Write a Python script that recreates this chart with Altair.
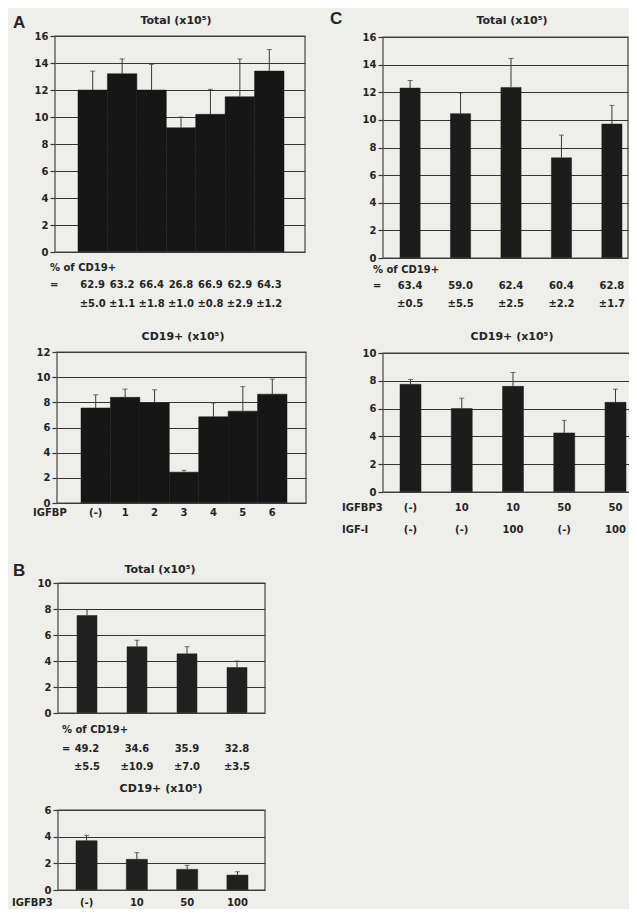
import altair as alt
import pandas as pd

# ---------------- data ----------------
# Panel A : IGFBP 1-6
a_groups = ["(-)", "1", "2", "3", "4", "5", "6"]
a_total = [12.0, 13.2, 12.0, 9.2, 10.2, 11.5, 13.4]
a_total_err = [1.4, 1.1, 1.9, 0.8, 1.85, 2.8, 1.6]
a_pct = ["62.9", "63.2", "66.4", "26.8", "66.9", "62.9", "64.3"]
a_pct_sd = ["±5.0", "±1.1", "±1.8", "±1.0", "±0.8", "±2.9", "±1.2"]
a_cd19 = [7.55, 8.4, 7.95, 2.45, 6.85, 7.3, 8.65]
a_cd19_err = [1.05, 0.65, 1.05, 0.15, 1.1, 1.95, 1.2]

# Panel B : IGFBP3 dose
b_groups = ["(-)", "10", "50", "100"]
b_total = [7.5, 5.1, 4.55, 3.5]
b_total_err = [0.45, 0.5, 0.55, 0.5]
b_pct = ["49.2", "34.6", "35.9", "32.8"]
b_pct_sd = ["±5.5", "±10.9", "±7.0", "±3.5"]
b_cd19 = [3.7, 2.3, 1.55, 1.12]
b_cd19_err = [0.4, 0.5, 0.3, 0.25]

# Panel C : IGFBP3 +/- IGF-I
c_igfbp3 = ["(-)", "10", "10", "50", "50"]
c_igf1 = ["(-)", "(-)", "100", "(-)", "100"]
c_total = [12.3, 10.45, 12.35, 7.25, 9.7]
c_total_err = [0.55, 1.5, 2.1, 1.65, 1.35]
c_pct = ["63.4", "59.0", "62.4", "60.4", "62.8"]
c_pct_sd = ["±0.5", "±5.5", "±2.5", "±2.2", "±1.7"]
c_cd19 = [7.75, 6.0, 7.6, 4.25, 6.45]
c_cd19_err = [0.35, 0.75, 1.0, 0.9, 0.95]
c_groups = [f"{p}|{q}" for p, q in zip(c_igfbp3, c_igf1)]

# ---------------- style ----------------
M = 8
FONT = "DejaVu Sans"
INK = "#242424"
GRID = "#353535"
FRAME = "#454545"
ERR = "#3a3a3a"
BG = "#eeeeeb"
one = pd.DataFrame({"k": [0]})


def px(v):
    return v - M


def band_scale(groups, f0, f1, b0, b1, pi):
    n = len(groups)
    step = (b1 - b0) / (n - pi)
    po = ((f1 - f0) / step - n + pi) / 2
    align = (b0 - f0) / ((f1 - f0) - (b1 - b0))
    return alt.Scale(type="band", domain=groups, range=[px(f0), px(f1)], paddingInner=pi,
                     paddingOuter=po, align=align, round=False)


def y_scale(ymax, yb, yt):
    return alt.Scale(domain=[0, ymax], range=[px(yb), px(yt)], nice=False, zero=False)


def panel(groups, vals, errs, xs, ys, f0, f1, yt, yb, ymax, ystep, color):
    df = pd.DataFrame({"g": groups, "v": vals, "e": errs})
    base = alt.Chart(df).transform_calculate(top="datum.v + datum.e")
    X = alt.X("g:N", scale=xs, axis=None, sort=groups)
    yaxis = alt.Axis(orient="left", offset=-px(f0), values=list(range(0, ymax + 1, ystep)),
                     grid=True, gridColor=GRID, gridWidth=1.2, gridOpacity=1, domain=False,
                     ticks=True, tickSize=5, tickColor=GRID, tickWidth=1.2,
                     labelFont=FONT, labelFontSize=10, labelFontWeight="bold",
                     labelColor=INK, labelPadding=2, title=None)
    bars = base.mark_bar(color=color, stroke=color, strokeWidth=0.5).encode(
        x=X, y=alt.Y("v:Q", scale=ys, axis=yaxis))
    err = base.mark_rule(color=ERR, strokeWidth=1).encode(
        x=X, y=alt.Y("v:Q", scale=ys, axis=None), y2="top:Q")
    cap = base.mark_tick(color=ERR, size=5, thickness=1).encode(
        x=X, y=alt.Y("top:Q", scale=ys, axis=None))
    frame = alt.Chart(one).mark_rect(fill="transparent", stroke=FRAME, strokeWidth=1.2).encode(
        x=alt.value(px(f0)), x2=alt.value(px(f1)), y=alt.value(px(yt)), y2=alt.value(px(yb)))
    return [bars, err, cap, frame]


def row(groups, texts, xs, y, size=10):
    df = pd.DataFrame({"g": groups, "t": texts})
    return alt.Chart(df).mark_text(align="center", baseline="middle", font=FONT,
                                   fontSize=size, fontWeight="bold", color=INK).encode(
        x=alt.X("g:N", scale=xs, axis=None, sort=groups), y=alt.value(px(y)), text="t:N")


def label(text, x, y, size=10, align="left", font=FONT):
    return alt.Chart(one).mark_text(text=text, align=align, baseline="middle", font=font,
                                    fontSize=size, fontWeight="bold", color=INK).encode(
        x=alt.value(px(x)), y=alt.value(px(y)))


layers = []

# ---- A top: Total ----
xs = band_scale(a_groups, 55, 305, 78, 284, 0.0)
layers += panel(a_groups, a_total, a_total_err, xs, y_scale(16, 252, 36), 55, 305, 36, 252, 16, 2, "#161616")
layers += [label("Total (x10⁵)", 176, 21, 11, "center"),
           label("% of CD19+", 50, 268), label("=", 50, 285),
           row(a_groups, a_pct, xs, 285), row(a_groups, a_pct_sd, xs, 304)]

# ---- A bottom: CD19+ ----
xs = band_scale(a_groups, 57, 306, 81, 287, 0.0)
layers += panel(a_groups, a_cd19, a_cd19_err, xs, y_scale(12, 503, 352), 57, 306, 352, 503, 12, 2, "#161616")
layers += [label("CD19+ (x10⁵)", 183, 337, 11, "center"),
           label("IGFBP", 33, 513), row(a_groups, a_groups, xs, 513)]

# ---- B top: Total ----
xs = band_scale(b_groups, 58, 265, 77, 247, 0.6)
layers += panel(b_groups, b_total, b_total_err, xs, y_scale(10, 713, 583), 58, 265, 583, 713, 10, 2, "#202020")
layers += [label("Total (x10⁵)", 160, 570, 11, "center"),
           label("% of CD19+", 62, 730), label("=", 62, 749),
           row(b_groups, b_pct, xs, 749), row(b_groups, b_pct_sd, xs, 767)]

# ---- B bottom: CD19+ ----
xs = band_scale(b_groups, 58, 265, 76, 248, 0.58)
layers += panel(b_groups, b_cd19, b_cd19_err, xs, y_scale(6, 890, 810), 58, 265, 810, 890, 6, 2, "#202020")
layers += [label("CD19+ (x10⁵)", 161, 789, 11, "center"),
           label("IGFBP3", 12, 903), row(b_groups, b_groups, xs, 903)]

# ---- C top: Total ----
xs = band_scale(c_groups, 383, 628, 400, 622, 0.6)
layers += panel(c_groups, c_total, c_total_err, xs, y_scale(16, 258, 37), 383, 628, 37, 258, 16, 2, "#1c1c1c")
layers += [label("Total (x10⁵)", 512, 21, 11, "center"),
           label("% of CD19+", 373, 270), label("=", 373, 286),
           row(c_groups, c_pct, xs, 286), row(c_groups, c_pct_sd, xs, 304)]

# ---- C bottom: CD19+ ----
xs = band_scale(c_groups, 383, 633, 400, 626, 0.59)
layers += panel(c_groups, c_cd19, c_cd19_err, xs, y_scale(10, 492, 353), 383, 633, 353, 492, 10, 2, "#1c1c1c")
layers += [label("CD19+ (x10⁵)", 512, 337, 11, "center"),
           label("IGFBP3", 342, 508), row(c_groups, c_igfbp3, xs, 508),
           label("IGF-I", 342, 530), row(c_groups, c_igf1, xs, 530)]

# ---- panel letters ----
layers += [label("A", 13, 23, 17, font="Liberation Sans"),
           label("B", 13, 571, 17, font="Liberation Sans"),
           label("C", 330, 19, 17, font="Liberation Sans")]

chart = alt.layer(*layers).resolve_scale(x="independent", y="independent").resolve_axis(
    x="independent", y="independent").properties(
    width=621, height=901, padding=0, background=BG,
    autosize=alt.AutoSizeParams(type="none")).configure_view(stroke=None)

chart.save("out.html", embed_options={"renderer": "svg", "actions": False})
